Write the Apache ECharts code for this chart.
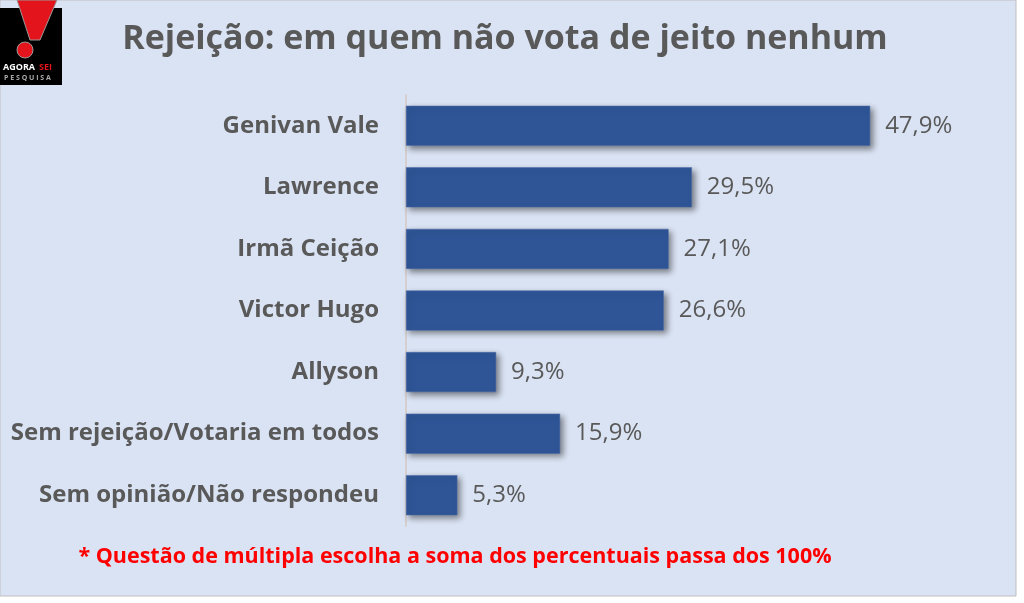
<!DOCTYPE html>
<html><head><meta charset="utf-8">
<script src="https://cdn.jsdelivr.net/npm/echarts@6/dist/echarts.min.js"></script>
<style>html,body{margin:0;padding:0;background:#fff;}#c{width:1024px;height:603px;}</style>
</head><body><div id="c"></div>
<script>
const categories = ["Genivan Vale","Lawrence","Irmã Ceição","Victor Hugo","Allyson","Sem rejeição/Votaria em todos","Sem opinião/Não respondeu"];
const values = [47.9, 29.5, 27.1, 26.6, 9.3, 15.9, 5.3];
const titleText = "Rejeição: em quem não vota de jeito nenhum";
const noteText = "* Questão de múltipla escolha a soma dos percentuais passa dos 100%";

const chart = echarts.init(document.getElementById('c'));
const FONT = '"Open Sans", sans-serif';
chart.setOption({
  backgroundColor: '#ffffff',
  graphic: [
    {type:'rect', z:-10, shape:{x:0,y:0,width:1016,height:596}, style:{fill:'#DAE3F3', stroke:'#BFBFBF', lineWidth:1}},
    {type:'rect', shape:{x:0,y:8,width:62,height:77}, style:{fill:'#000'}},
    {type:'polygon', shape:{points:[[17,0],[57,0],[40,40],[30,40]]}, style:{fill:'#E3141B', stroke:'#9a9a9a', lineWidth:1}},
    {type:'circle', shape:{cx:25,cy:50,r:8}, style:{fill:'#E3141B', stroke:'#9a9a9a', lineWidth:1}},
    {type:'text', x:3, y:63, style:{text:'AGORA', fill:'#fff', font:'bold 9px '+FONT}},
    {type:'text', x:39, y:63, style:{text:'SEI', fill:'#E3141B', font:'bold 9px '+FONT}},
    {type:'text', x:4, y:74, style:{text:'P E S Q U I S A', fill:'#aaa', font:'bold 7px '+FONT}}
  ],
  title: [
    {text: titleText, left: 500, top: 17, textAlign:'center',
     textStyle:{color:'#595959', fontFamily:FONT, fontWeight:'bold', fontSize:34}},
    {text: noteText, left: 450, top: 541, textAlign:'center',
     textStyle:{color:'#FF0000', fontFamily:FONT, fontWeight:'bold', fontSize:21.5}}
  ],
  grid: {left: 406, top: 95, width: 484.5, height: 431, containLabel:false},
  xAxis: {type:'value', min:0, max:50, show:false},
  yAxis: {type:'category', data: categories, inverse:true,
    axisLine:{show:true, lineStyle:{color:'#D5CFD0', width:2}},
    axisTick:{show:false},
    axisLabel:{color:'#595959', fontFamily:FONT, fontWeight:'bold', fontSize:24, margin:27}
  },
  series: [{
    type:'bar', data: values, barCategoryGap:'35%',
    itemStyle:{color:'#2F5597', borderColor:'#4a6aa8', borderWidth:0.5,
      shadowColor:'rgba(0,0,0,0.45)', shadowBlur:6, shadowOffsetX:3, shadowOffsetY:3},
    label:{show:true, position:'right', distance:15, color:'#595959', fontFamily:FONT, fontSize:24,
      formatter: p => p.value.toFixed(1).replace('.', ',') + '%'}
  }],
  animation:false
});
</script></body></html>
